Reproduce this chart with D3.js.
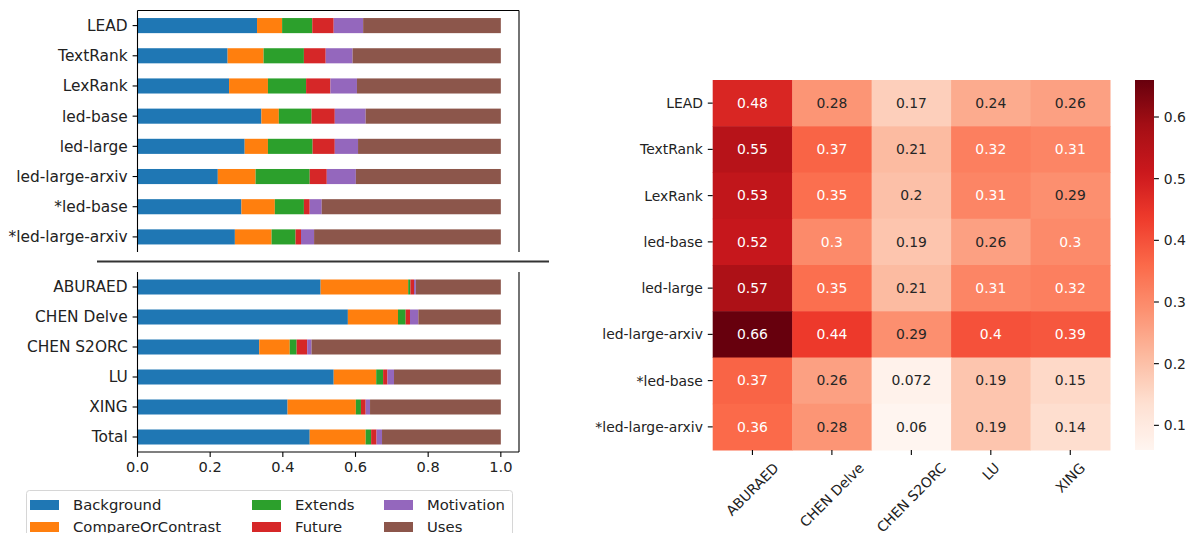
<!DOCTYPE html>
<html>
<head>
<meta charset="utf-8">
<script src="https://cdn.jsdelivr.net/npm/d3@7"></script>
<style>
    body { margin: 0; background: #fff; }
    svg { font-family: "DejaVu Sans", sans-serif; font-size: 13.9px; }
    .bars text { font-size: 15.4px; }
    .bars .xtick text { font-size: 14.6px; }
    .legend text { font-size: 14.8px; }
</style>
</head>
<body>
<script>
// datos
const summarizers = ['LEAD', 'TextRank', 'LexRank', 'led-base', 'led-large', 'led-large-arxiv', '*led-base', '*led-large-arxiv'];
const datasets = ['ABURAED', 'CHEN Delve', 'CHEN S2ORC', 'LU', 'XING', 'Total'];
const intents = ['Background', 'CompareOrContrast', 'Extends', 'Future', 'Motivation', 'Uses'];
const intentColors = ['#1f77b4', '#ff7f0e', '#2ca02c', '#d62728', '#9467bd', '#8c564b'];

// una entrada por fila: 8 resumidores y luego 6 conjuntos de datos
const background = [0.329, 0.248, 0.252, 0.341, 0.295, 0.221, 0.286, 0.268, 0.504, 0.579, 0.335, 0.540, 0.413, 0.474];
const compareOrContrast = [0.069, 0.099, 0.107, 0.048, 0.064, 0.104, 0.092, 0.101, 0.241, 0.138, 0.084, 0.117, 0.188, 0.154];
const extendsShare = [0.083, 0.111, 0.105, 0.090, 0.123, 0.149, 0.080, 0.066, 0.006, 0.021, 0.019, 0.019, 0.014, 0.015];
const future = [0.059, 0.060, 0.067, 0.064, 0.061, 0.047, 0.016, 0.015, 0.010, 0.012, 0.029, 0.012, 0.013, 0.015];
const motivation = [0.081, 0.074, 0.073, 0.085, 0.064, 0.080, 0.033, 0.036, 0.005, 0.023, 0.012, 0.018, 0.012, 0.015];
const uses = [0.379, 0.408, 0.396, 0.372, 0.393, 0.399, 0.493, 0.514, 0.234, 0.227, 0.521, 0.294, 0.360, 0.327];

const xTicks = [0, 0.2, 0.4, 0.6, 0.8, 1.0];

const heatDatasets = ['ABURAED', 'CHEN Delve', 'CHEN S2ORC', 'LU', 'XING'];
const heatValues = [
    [0.48, 0.28, 0.17, 0.24, 0.26],
    [0.55, 0.37, 0.21, 0.32, 0.31],
    [0.53, 0.35, 0.2, 0.31, 0.29],
    [0.52, 0.3, 0.19, 0.26, 0.3],
    [0.57, 0.35, 0.21, 0.31, 0.32],
    [0.66, 0.44, 0.29, 0.4, 0.39],
    [0.37, 0.26, 0.072, 0.19, 0.15],
    [0.36, 0.28, 0.06, 0.19, 0.14]
];
const cbarTicks = [0.1, 0.2, 0.3, 0.4, 0.5, 0.6];
const redsStops = ['#fff5f0', '#fee0d2', '#fcbba1', '#fc9272', '#fb6a4a', '#ef3b2c', '#cb181d', '#a50f15', '#67000d'];

const width = 1187;
const height = 533;
const tickLen = 4.9;
const tickPad = 4.9;
const textColor = '#222';

const svg = d3.select('body').append('svg')
    .attr('width', width)
    .attr('height', height);

const series = [background, compareOrContrast, extendsShare, future, motivation, uses];
const rows = summarizers.concat(datasets).map((name, i) => {
    const r = { name: name };
    intents.forEach((k, j) => { r[k] = series[j][i]; });
    return r;
});

const x = d3.scaleLinear().domain([0, 1.05]).range([137.5, 519]);
const color = d3.scaleOrdinal().domain(intents).range(intentColors);

const barsG = svg.append('g').attr('class', 'bars');
drawPanel(barsG, rows.slice(0, 8), 10.5, 252, false);
drawPanel(barsG, rows.slice(8), 272, 452, true);

// linea del corte entre paneles
svg.append('line')
    .attr('x1', 97).attr('x2', 549)
    .attr('y1', 261.5).attr('y2', 261.5)
    .attr('stroke', '#333')
    .attr('stroke-width', 1.8);

drawLegend();
drawHeatmap();

function drawPanel(parent, data, top, bottom, withXAxis) {
    const g = parent.append('g');
    const y = d3.scaleBand()
        .domain(data.map(d => d.name))
        .range([top, bottom])
        .paddingInner(0.5)
        .paddingOuter(0.25);

    const stacked = d3.stack().keys(intents)(data);

    g.selectAll('g.layer')
        .data(stacked)
        .enter().append('g')
        .attr('class', 'layer')
        .attr('fill', d => color(d.key))
        .selectAll('rect')
        .data(d => d)
        .enter().append('rect')
        .attr('x', d => x(d[0]))
        .attr('width', d => x(d[1]) - x(d[0]))
        .attr('y', d => y(d.data.name))
        .attr('height', y.bandwidth());

    // ejes
    const x0 = x.range()[0], x1 = x.range()[1];
    g.append('line').attr('x1', x0).attr('x2', x0).attr('y1', top).attr('y2', bottom)
        .attr('stroke', '#000').attr('stroke-width', 1.1);
    g.append('line').attr('x1', x1).attr('x2', x1).attr('y1', top).attr('y2', bottom)
        .attr('stroke', '#000').attr('stroke-width', 1.1);
    if (withXAxis) {
        g.append('line').attr('x1', x0).attr('x2', x1).attr('y1', bottom).attr('y2', bottom)
            .attr('stroke', '#000').attr('stroke-width', 1.1);
    } else {
        g.append('line').attr('x1', x0).attr('x2', x1).attr('y1', top).attr('y2', top)
            .attr('stroke', '#000').attr('stroke-width', 1.1);
    }

    const yTicks = g.selectAll('g.ytick')
        .data(data)
        .enter().append('g')
        .attr('class', 'ytick')
        .attr('transform', d => `translate(${x0},${y(d.name) + y.bandwidth() / 2})`);
    yTicks.append('line').attr('x2', -tickLen).attr('stroke', '#000').attr('stroke-width', 1.1);
    yTicks.append('text')
        .attr('x', -tickLen - tickPad)
        .attr('dy', '0.35em')
        .attr('text-anchor', 'end')
        .attr('fill', textColor)
        .text(d => d.name);

    if (withXAxis) {
        const xt = g.selectAll('g.xtick')
            .data(xTicks)
            .enter().append('g')
            .attr('class', 'xtick')
            .attr('transform', d => `translate(${x(d)},${bottom})`);
        xt.append('line').attr('y2', tickLen).attr('stroke', '#000').attr('stroke-width', 1.1);
        xt.append('text')
            .attr('y', tickLen + tickPad)
            .attr('dy', '0.71em')
            .attr('text-anchor', 'middle')
            .attr('fill', textColor)
            .text(d => d3.format('.1f')(d));
    }
}

function drawLegend() {
    const g = svg.append('g').attr('class', 'legend');
    g.append('rect')
        .attr('x', 26.5).attr('y', 490.5)
        .attr('width', 486).attr('height', 60)
        .attr('rx', 3)
        .attr('fill', '#fff')
        .attr('stroke', '#d6d6d6');

    const colX = [30, 252, 384];
    const rowY = [505, 527];
    const items = g.selectAll('g.item')
        .data(intents)
        .enter().append('g')
        .attr('transform', (d, i) => `translate(${colX[Math.floor(i / 2)]},${rowY[i % 2]})`);
    items.append('rect')
        .attr('y', -5).attr('width', 29).attr('height', 10)
        .attr('fill', d => color(d));
    items.append('text')
        .attr('x', 43)
        .attr('dy', '0.35em')
        .attr('fill', textColor)
        .text(d => d);
}

function relLuminance(c) {
    const rgb = d3.rgb(c);
    const f = v => {
        v = v / 255;
        return v <= 0.03928 ? v / 12.92 : Math.pow((v + 0.055) / 1.055, 2.4);
    };
    return 0.2126 * f(rgb.r) + 0.7152 * f(rgb.g) + 0.0722 * f(rgb.b);
}

function drawHeatmap() {
    const vmin = 0.06, vmax = 0.66;
    const g = svg.append('g');
    const hx = d3.scaleBand().domain(heatDatasets).range([712.7, 1110]);
    const hy = d3.scaleBand().domain(summarizers).range([80, 450]);
    const reds = d3.scaleLinear()
        .domain(redsStops.map((s, i) => vmin + i * (vmax - vmin) / (redsStops.length - 1)))
        .range(redsStops)
        .interpolate(d3.interpolateRgb)
        .clamp(true);

    const cells = [];
    summarizers.forEach((r, i) => {
        heatDatasets.forEach((c, j) => cells.push({ row: r, col: c, value: heatValues[i][j] }));
    });

    g.selectAll('rect.cell')
        .data(cells)
        .enter().append('rect')
        .attr('x', d => hx(d.col))
        .attr('y', d => hy(d.row))
        .attr('width', hx.bandwidth() + 0.5)
        .attr('height', hy.bandwidth() + 0.5)
        .attr('fill', d => reds(d.value));

    g.selectAll('text.annot')
        .data(cells)
        .enter().append('text')
        .attr('x', d => hx(d.col) + hx.bandwidth() / 2)
        .attr('y', d => hy(d.row) + hy.bandwidth() / 2)
        .attr('dy', '0.35em')
        .attr('text-anchor', 'middle')
        .attr('fill', d => relLuminance(reds(d.value)) > 0.408 ? '#262626' : '#fff')
        .text(d => d3.format('.2~g')(d.value));

    // etiquetas de filas
    const left = hx.range()[0];
    const rt = g.selectAll('g.rtick')
        .data(summarizers)
        .enter().append('g')
        .attr('transform', d => `translate(${left},${hy(d) + hy.bandwidth() / 2})`);
    rt.append('line').attr('x2', -tickLen).attr('stroke', '#000').attr('stroke-width', 1.1);
    rt.append('text')
        .attr('x', -tickLen - tickPad)
        .attr('dy', '0.35em')
        .attr('text-anchor', 'end')
        .attr('fill', textColor)
        .text(d => d);

    // etiquetas de columnas, giradas 45 grados
    const bottom = hy.range()[1];
    const ct = g.selectAll('g.ctick')
        .data(heatDatasets)
        .enter().append('g')
        .attr('transform', d => `translate(${hx(d) + hx.bandwidth() / 2},${bottom})`);
    ct.append('line').attr('y2', tickLen).attr('stroke', '#000').attr('stroke-width', 1.1);
    ct.append('text')
        .attr('text-anchor', 'middle')
        .attr('dy', '0.35em')
        .attr('fill', textColor)
        .text(d => d)
        .attr('transform', function() {
            const w = this.getComputedTextLength();
            const box = (w + 16) * Math.SQRT1_2;
            return `translate(0,${tickLen + tickPad + box / 2}) rotate(-45)`;
        });

    // barra de color
    const cbX = 1135, cbW = 19;
    const cy = d3.scaleLinear().domain([vmin, vmax]).range([450, 80]);
    const grad = svg.append('defs').append('linearGradient')
        .attr('id', 'cbar')
        .attr('x1', 0).attr('y1', 1).attr('x2', 0).attr('y2', 0);
    grad.selectAll('stop')
        .data(d3.range(0, 1.0001, 0.02))
        .enter().append('stop')
        .attr('offset', d => d)
        .attr('stop-color', d => reds(vmin + d * (vmax - vmin)));
    g.append('rect')
        .attr('x', cbX).attr('y', 80)
        .attr('width', cbW).attr('height', 370)
        .attr('fill', 'url(#cbar)');

    const cb = g.selectAll('g.cbtick')
        .data(cbarTicks)
        .enter().append('g')
        .attr('transform', d => `translate(${cbX + cbW},${cy(d)})`);
    cb.append('line').attr('x2', tickLen).attr('stroke', '#000').attr('stroke-width', 1.1);
    cb.append('text')
        .attr('x', tickLen + tickPad)
        .attr('dy', '0.35em')
        .attr('fill', textColor)
        .text(d => d3.format('.1f')(d));
}
</script>
</body>
</html>
